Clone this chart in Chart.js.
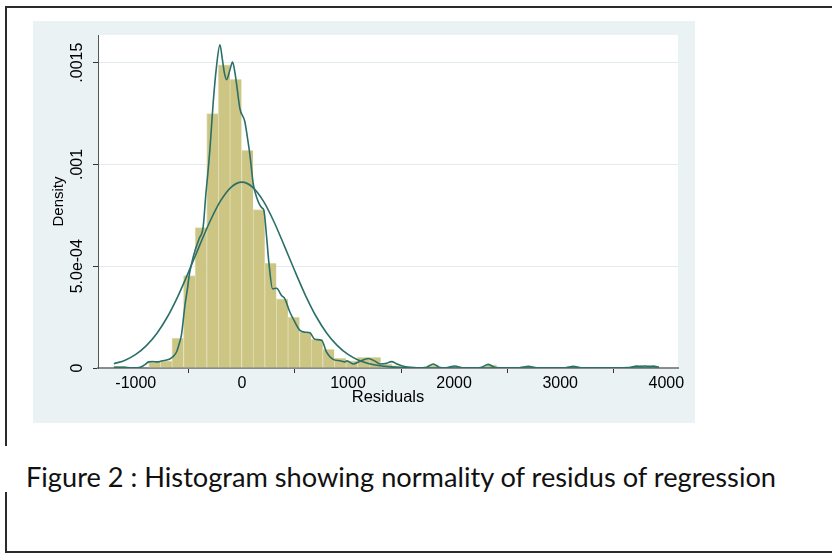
<!DOCTYPE html>
<html><head><meta charset="utf-8">
<script src="https://cdn.jsdelivr.net/npm/chart.js@4.4.1/dist/chart.umd.min.js"></script>
<style>
html,body{margin:0;padding:0;background:#fff;}
body{width:832px;height:556px;position:relative;overflow:hidden;}
#panel{position:absolute;left:33px;top:21px;width:662px;height:402px;background:#eaf2f3;}
.ln{position:absolute;background:#2b2b2b;}
#cap{position:absolute;left:26px;top:464px;font-family:Lato,'Open Sans',sans-serif;font-size:26px;color:#111;white-space:nowrap;transform-origin:0 0;line-height:1;}
</style></head><body>
<div class="ln" style="left:5px;top:6px;width:827px;height:2px"></div>
<div class="ln" style="left:5px;top:6px;width:2px;height:440px"></div>
<div class="ln" style="left:5px;top:492px;width:2px;height:61px"></div>
<div class="ln" style="left:5px;top:551px;width:827px;height:2px"></div>
<div id="panel"><canvas id="c"></canvas></div>
<div id="cap">Figure 2 : Histogram showing normality of residus of regression</div>
<script>
// ---- data ----
const binCenters = [-1151.4,-1042.1,-932.8,-823.5,-714.2,-604.9,-495.6,-386.3,-277.0,-167.7,-58.4,50.9,160.2,269.5,378.8,488.1,597.4,706.7,816.0,925.3,1034.6,1143.9,1253.2,1362.5,1471.8,1581.1,1690.4,1799.7,1909.0,2018.3,2127.6,2236.9,2346.2,2455.5,2564.8,2674.1,2783.4,2892.7,3002.0,3111.3,3220.6,3329.9,3439.2,3548.5,3657.8,3767.1,3876.4];
const binDensity = [0.000008,0,0,0.000033,0.000035,0.000147,0.000454,0.00069,0.00125,0.00149,0.001418,0.00107,0.000778,0.000516,0.00034,0.00025,0.000176,0.000141,0.0000915,0.000049,0.000035,0.000052,0.000052,0.00002,0.000012,0.000006,0.000004,0.000016,0,0.000008,0,0,0.000016,0,0,0.000008,0,0,0,0.000008,0,0,0,0,0.000004,0.000012,0.000008];

const kernelX = [-1206,-1150,-1100,-1040,-990,-945,-910,-880,-840,-800,-760,-720,-680,-650,-615,-590,-568,-537,-510,-497,-474,-440,-402,-365,-339,-320,-302,-270,-238,-207,-185,-165,-144,-115,-88,-65,-44,-19,28,50,75,107,138,186,207,233,255,289,327,374,405,452,500,547,594,641,688,751,798,860,924,971,990,1049,1110,1191,1250,1301,1355,1411,1460,1505,1583,1650,1740,1803,1860,1920,2008,2080,2200,2260,2322,2390,2500,2620,2699,2780,2950,3050,3123,3200,3500,3650,3720,3760,3798,3840,3877,3930];
const kernelY = [0.000004,0.000004,0.000003,0.000001,0.000001,0.000006,0.000018,0.00003,0.000032,0.00003,0.000034,0.000038,0.000044,0.000055,0.00008,0.00012,0.000168,0.000307,0.0004,0.000454,0.000513,0.00058,0.000636,0.000693,0.000858,0.00096,0.00107,0.001307,0.001487,0.001588,0.00152,0.00145,0.001417,0.00146,0.001503,0.00145,0.00137,0.001275,0.00121,0.00114,0.00105,0.000905,0.00084,0.000788,0.000775,0.000644,0.000515,0.000389,0.000392,0.000356,0.00034,0.000275,0.000225,0.000185,0.000176,0.000173,0.000141,0.000136,0.0000784,0.0000425,0.000036,0.00003,0.000035,0.00002,0.000032,0.000047,0.000035,0.00002,0.000022,0.0000314,0.00002,0.0000113,0.000003,0.000001,0.000004,0.00002,0.000004,0.000001,0.00001,0.000001,0.000001,0.000004,0.000018,0.000002,0.000001,0.000001,0.000008,0.000001,0.000001,0.000001,0.000008,0.000001,0.000001,0.000002,0.000009,0.000008,0.00001,0.000008,0.000009,0.000004];

const normalX = [-1206,-1100,-1000,-900,-800,-700,-600,-500,-400,-300,-200,-100,0,100,200,300,400,500,600,700,800,900,1000,1100,1200,1300,1400,1500,1600,1800,2000,3000,3930];
const normalY = [0.000021,0.0000384,0.0000666,0.00011,0.000171,0.000253,0.000356,0.000475,0.0006,0.000721,0.000822,0.000889,0.000913,0.000889,0.000822,0.000721,0.0006,0.000475,0.000356,0.000253,0.000171,0.00011,0.0000666,0.0000384,0.000021,0.0000109,0.0000054,0.0000025,0.000001,0.0000002,0,0,0];

const xTickValues = [-1000,0,1000,2000,3000,4000];
const xTickLabels = ['-1000','0','1000','2000','3000','4000'];
const yTickValues = [0,0.0005,0.001,0.0015];
const yTickLabels = ['0','5.0e-04','.001','.0015'];
const xRange = [-1356,4110];
const yRange = [0,0.001636];

// ---- styles ----
const lineColor = 'rgb(42,111,104)';
const barFill = 'rgb(204,197,132)';
const barEdge = 'rgb(226,222,178)';
const FONT = 'Liberation Sans, Arial, Helvetica, sans-serif';

const plotBg = {
  id: 'plotBg',
  beforeDraw(chart) {
    const {ctx, chartArea: a} = chart;
    ctx.save();
    ctx.fillStyle = '#ffffff';
    ctx.fillRect(a.left, a.top, a.right - a.left, a.bottom - a.top);
    ctx.restore();
  }
};

new Chart(document.getElementById('c'), {
  type: 'bar',
  data: {
    datasets: [
      { type: 'line', label: 'kernel', data: kernelX.map((x, i) => ({x, y: kernelY[i]})),
        borderColor: lineColor, borderWidth: 1.6, pointRadius: 0, fill: false, cubicInterpolationMode: 'monotone' },
      { type: 'line', label: 'normal', data: normalX.map((x, i) => ({x, y: normalY[i]})),
        borderColor: lineColor, borderWidth: 1.6, pointRadius: 0, fill: false, cubicInterpolationMode: 'monotone' },
      { type: 'bar', label: 'hist', data: binCenters.map((x, i) => ({x, y: binDensity[i]})),
        backgroundColor: barFill, borderColor: barEdge, borderWidth: {top: 1, left: 1, right: 0, bottom: 0},
        barPercentage: 1, categoryPercentage: 1 }
    ]
  },
  options: {
    responsive: true, maintainAspectRatio: false, animation: false,
    layout: { padding: { left: 0, top: 14, right: 17, bottom: 0 } },
    plugins: { legend: { display: false }, tooltip: { enabled: false } },
    scales: {
      x: {
        type: 'linear', min: xRange[0], max: xRange[1], offset: false,
        afterBuildTicks: s => { s.ticks = xTickValues.map(v => ({value: v})); },
        afterFit: s => { s.height = 55; },
        grid: { drawOnChartArea: false, drawTicks: true, tickLength: 5, tickColor: '#333', tickWidth: 1 },
        border: { display: true, color: '#8c8c8c', width: 2 },
        ticks: { maxRotation: 0, minRotation: 0, padding: 1, color: '#000',
          font: { family: FONT, size: 16 },
          callback: (v) => { const i = xTickValues.indexOf(v); return i >= 0 ? xTickLabels[i] : ''; } },
        title: { display: true, text: 'Residuals', color: '#000', font: { family: FONT, size: 16.5 }, padding: { top: 0, bottom: 16 } }
      },
      y: {
        type: 'linear', min: yRange[0], max: yRange[1],
        afterBuildTicks: s => { s.ticks = yTickValues.map(v => ({value: v})); },
        afterFit: s => { s.width = 65; },
        grid: { drawOnChartArea: true, drawTicks: true, tickLength: 5, tickColor: '#333', tickWidth: 1,
          color: c => (c.tick && c.tick.value === 0) ? 'rgba(0,0,0,0)' : '#e2ecef', lineWidth: 1 },
        border: { display: true, color: '#555', width: 1 },
        ticks: { minRotation: 90, maxRotation: 90, crossAlign: 'center', padding: -12, color: '#000',
          font: { family: FONT, size: 16 },
          callback: (v) => { const i = yTickValues.indexOf(v); return i >= 0 ? yTickLabels[i] : ''; } },
        title: { display: true, text: 'Density', color: '#000', font: { family: FONT, size: 15 }, padding: { top: 17, bottom: 0 } }
      }
    }
  },
  plugins: [plotBg]
});

// caption width fit
const cap = document.getElementById('cap');
const w = cap.getBoundingClientRect().width;
cap.style.transform = 'scaleX(' + (750 / w) + ')';
</script>
</body></html>
